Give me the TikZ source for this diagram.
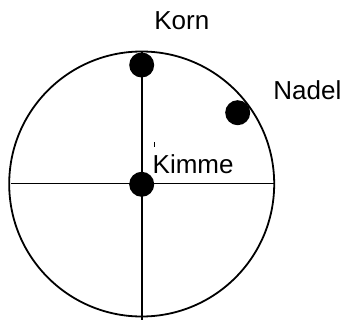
\documentclass[tikz,border=0pt]{standalone}
\usepackage{fontspec}
\setmainfont{Liberation Sans}
\begin{document}
\begin{tikzpicture}[x=1pt,y=1pt,
  dot/.style={circle,fill=black,inner sep=0pt,minimum size=25pt},
  lbl/.style={inner sep=0pt,font=\fontsize{26}{31}\selectfont}]
  \useasboundingbox (0,0) rectangle (346,322);
  % sight picture
  \draw[line width=1.8pt] (141.7,138) circle (132.5);
  \coordinate (top) at (141.7,270);
  \coordinate (bot) at (141.7,2);
  \coordinate (lft) at (11,138.5);
  \coordinate (rgt) at (274,138.5);
  \draw[line width=1.7pt] (top) -- (bot);
  \draw[line width=1.7pt] (lft) -- (rgt);
  \draw[line width=0.6pt] (154.3,175) -- (154.3,180);
  % points
  \node[dot] (korn) at (141.7,257) {};
  \node[dot] (nadel) at (237.7,209.3) {};
  \node[dot] (kimme) at (141.7,137.7) {};
  \node[lbl,anchor=base] (kornlbl) at (181.8,292.7) {Korn};
  \node[lbl,anchor=base west] (nadellbl) at (273.2,222) {Nadel};
  \node[lbl,anchor=base west] (kimmelbl) at (152.5,148.7) {Kimme};
\end{tikzpicture}
\end{document}
